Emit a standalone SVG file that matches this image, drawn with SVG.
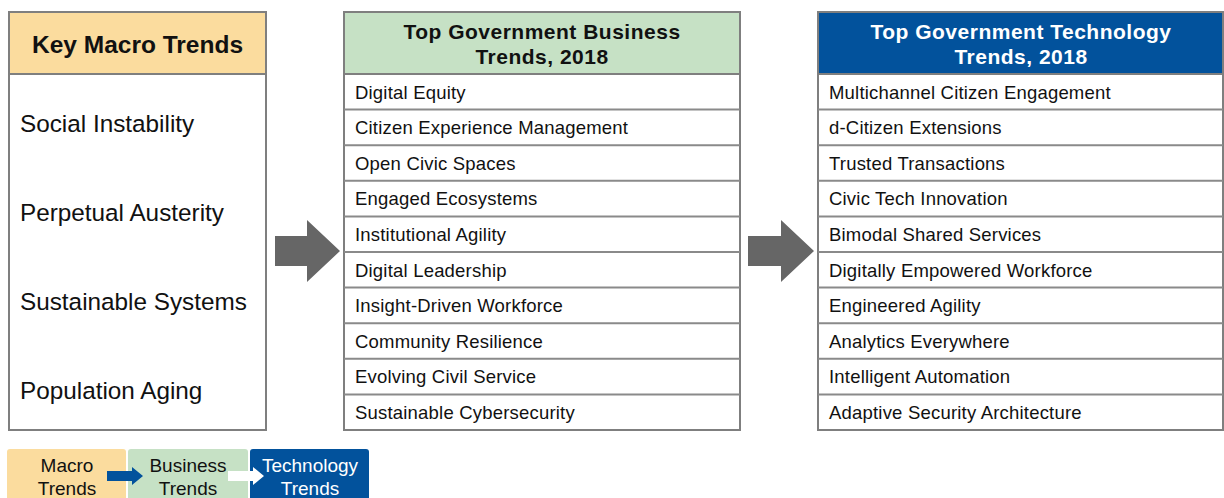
<svg xmlns="http://www.w3.org/2000/svg" width="1224" height="498" viewBox="0 0 1224 498">
<style>
.box{fill:#fff;stroke:#7f7f7f;stroke-width:2}
.line{stroke:#8a8a8a;stroke-width:2}
.hd{font-family:"Liberation Sans",Arial,sans-serif;font-weight:bold;font-size:21px;letter-spacing:0.5px;text-anchor:middle}
.row{font-family:"Liberation Sans",Arial,sans-serif;font-size:18.5px;letter-spacing:0.2px;fill:#111}
.macro{font-family:"Liberation Sans",Arial,sans-serif;font-size:24.3px;fill:#111}
.leg{font-family:"Liberation Sans",Arial,sans-serif;font-size:19px;text-anchor:middle}
.big{fill:#666}
</style>
<g id="macro">
<rect class="box" x="9" y="12" width="257" height="418"/>
<rect x="9" y="12" width="257" height="62" fill="#FBDC9E" stroke="#7f7f7f" stroke-width="2"/>
<text class="hd" x="137.5" y="53" style="font-size:24.5px;letter-spacing:0" fill="#111">Key Macro Trends</text>
<text class="macro" x="20" y="132">Social Instability</text>
<text class="macro" x="20" y="221">Perpetual Austerity</text>
<text class="macro" x="20" y="310">Sustainable Systems</text>
<text class="macro" x="20" y="399">Population Aging</text>
</g>
<g id="business">
<rect class="box" x="344" y="12" width="396" height="418"/>
<rect x="344" y="12" width="396" height="62" fill="#C6E1C5" stroke="#7f7f7f" stroke-width="2"/>
<text class="hd" x="542" y="39" fill="#111">Top Government Business</text>
<text class="hd" x="542" y="64" fill="#111">Trends, 2018</text>
<g class="line">
<line x1="344" y1="109.6" x2="740" y2="109.6"/>
<line x1="344" y1="145.2" x2="740" y2="145.2"/>
<line x1="344" y1="180.8" x2="740" y2="180.8"/>
<line x1="344" y1="216.4" x2="740" y2="216.4"/>
<line x1="344" y1="252" x2="740" y2="252"/>
<line x1="344" y1="287.6" x2="740" y2="287.6"/>
<line x1="344" y1="323.2" x2="740" y2="323.2"/>
<line x1="344" y1="358.8" x2="740" y2="358.8"/>
<line x1="344" y1="394.4" x2="740" y2="394.4"/>
</g>
<text class="row" x="355" y="98.5">Digital Equity</text>
<text class="row" x="355" y="134.1">Citizen Experience Management</text>
<text class="row" x="355" y="169.7">Open Civic Spaces</text>
<text class="row" x="355" y="205.3">Engaged Ecosystems</text>
<text class="row" x="355" y="240.9">Institutional Agility</text>
<text class="row" x="355" y="276.5">Digital Leadership</text>
<text class="row" x="355" y="312.1">Insight-Driven Workforce</text>
<text class="row" x="355" y="347.7">Community Resilience</text>
<text class="row" x="355" y="383.3">Evolving Civil Service</text>
<text class="row" x="355" y="418.9">Sustainable Cybersecurity</text>
</g>
<g id="technology">
<rect class="box" x="818" y="12" width="405" height="418"/>
<rect x="818" y="12" width="405" height="62" fill="#02529C" stroke="#7f7f7f" stroke-width="2"/>
<text class="hd" x="1021" y="39" fill="#fff">Top Government Technology</text>
<text class="hd" x="1021" y="64" fill="#fff">Trends, 2018</text>
<g class="line">
<line x1="818" y1="109.6" x2="1223" y2="109.6"/>
<line x1="818" y1="145.2" x2="1223" y2="145.2"/>
<line x1="818" y1="180.8" x2="1223" y2="180.8"/>
<line x1="818" y1="216.4" x2="1223" y2="216.4"/>
<line x1="818" y1="252" x2="1223" y2="252"/>
<line x1="818" y1="287.6" x2="1223" y2="287.6"/>
<line x1="818" y1="323.2" x2="1223" y2="323.2"/>
<line x1="818" y1="358.8" x2="1223" y2="358.8"/>
<line x1="818" y1="394.4" x2="1223" y2="394.4"/>
</g>
<text class="row" x="829" y="98.5">Multichannel Citizen Engagement</text>
<text class="row" x="829" y="134.1">d-Citizen Extensions</text>
<text class="row" x="829" y="169.7">Trusted Transactions</text>
<text class="row" x="829" y="205.3">Civic Tech Innovation</text>
<text class="row" x="829" y="240.9">Bimodal Shared Services</text>
<text class="row" x="829" y="276.5">Digitally Empowered Workforce</text>
<text class="row" x="829" y="312.1">Engineered Agility</text>
<text class="row" x="829" y="347.7">Analytics Everywhere</text>
<text class="row" x="829" y="383.3">Intelligent Automation</text>
<text class="row" x="829" y="418.9">Adaptive Security Architecture</text>
</g>
<g id="connectors">
<polygon class="big" points="275,236 307,236 307,220 340,251 307,282 307,266 275,266"/>
<polygon class="big" points="748,236 781,236 781,220 814,251 781,282 781,266 748,266"/>
</g>
<g id="legend">
<rect x="7" y="449" width="119" height="52" rx="3" fill="#FBDC9E"/>
<rect x="128" y="449" width="120" height="52" rx="3" fill="#C6E1C5"/>
<rect x="250" y="449" width="119" height="52" rx="3" fill="#02529C"/>
<text class="leg" x="67" y="472" fill="#111">Macro</text>
<text class="leg" x="67" y="495" fill="#111">Trends</text>
<text class="leg" x="188" y="472" fill="#111">Business</text>
<text class="leg" x="188" y="495" fill="#111">Trends</text>
<text class="leg" x="310" y="472" fill="#fff">Technology</text>
<text class="leg" x="310" y="495" fill="#fff">Trends</text>
<polygon fill="#02529C" points="107,471 132,471 132,467 143,476 132,485 132,481 107,481"/>
<polygon fill="#fff" points="228,471 253,471 253,467 264,476 253,485 253,481 228,481"/>
</g>
</svg>
